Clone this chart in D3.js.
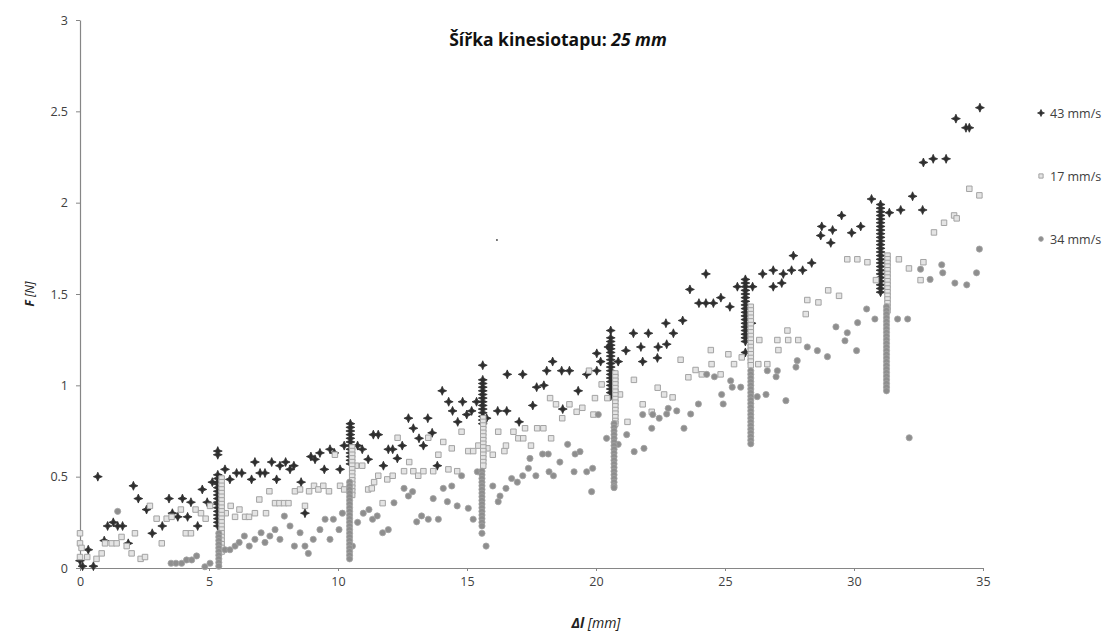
<!DOCTYPE html>
<html>
<head>
<meta charset="utf-8">
<script src="https://cdn.jsdelivr.net/npm/d3@7"></script>
<style>
  body { margin: 0; background: #fff; }
  text { font-family: "Open Sans", "Noto Sans", sans-serif; }
</style>
</head>
<body>
<div id="chart"></div>
<script>
// legend order
var seriesNames = ["43 mm/s", "17 mm/s", "34 mm/s"];
var xTicks = [0, 5, 10, 15, 20, 25, 30, 35];
var yTicks = [0, 0.5, 1, 1.5, 2, 2.5, 3];

// 43 mm/s - scattered points [Δl, F]
var pts43 = [
  [0,0.04],[0.1,0.01],[0.32,0.10],[0.52,0.01],[0.69,0.50],[0.94,0.15],[1.07,0.23],[1.29,0.25],
  [1.46,0.23],[1.65,0.23],[1.87,0.135],[2.07,0.45],[2.26,0.38],[2.58,0.32],[2.80,0.19],[3.19,0.23],
  [3.45,0.38],[3.58,0.30],[3.79,0.28],[3.97,0.38],[4.17,0.28],[4.30,0.36],[4.56,0.23],[4.74,0.43],
  [4.93,0.36],[5.13,0.47],[5.62,0.54],[5.81,0.485],[6.07,0.52],[6.27,0.52],[6.65,0.485],[6.78,0.58],
  [6.98,0.52],[7.17,0.52],[7.43,0.58],[7.62,0.485],[7.75,0.56],[7.97,0.58],[8.14,0.54],[8.29,0.56],
  [8.57,0.47],[8.72,0.30],[8.95,0.61],[9.11,0.595],[9.30,0.63],[9.47,0.54],[9.69,0.65],[9.86,0.63],
  [10.08,0.54],[10.24,0.67],[10.76,0.67],[10.94,0.65],[11.17,0.595],[11.37,0.73],[11.56,0.73],
  [11.76,0.56],[11.95,0.65],[12.12,0.65],[12.30,0.60],[12.49,0.67],[12.73,0.82],[12.92,0.765],
  [13.14,0.71],[13.31,0.67],[13.48,0.82],[13.65,0.74],[13.85,0.56],[14.04,0.97],[14.29,0.91],
  [14.44,0.86],[14.64,0.80],[14.83,0.91],[14.99,0.84],[15.18,0.86],[15.37,0.91],[15.76,0.82],
  [16.19,0.86],[16.54,0.86],[16.56,1.06],[17.02,0.80],[17.16,1.06],[17.55,0.89],
  [17.70,0.99],[17.98,1.00],[18.09,1.08],[18.32,1.13],[18.67,1.08],[18.71,0.87],[18.97,1.08],
  [19.31,0.97],[19.64,1.06],[20.03,1.175],[20.03,1.08],[20.18,1.13],[20.48,1.21],[20.86,1.13],
  [21.16,1.19],[21.45,1.285],[21.74,1.21],[21.81,1.13],[22.03,1.285],[22.38,1.15],[22.41,1.21],
  [22.71,1.34],[22.74,1.225],[23.0,1.285],[23.36,1.355],[23.64,1.525],[23.99,1.45],[24.26,1.61],
  [24.26,1.45],[24.55,1.45],[24.84,1.48],[25.19,1.43],[25.48,1.54],[26.07,1.54],[26.03,1.34],
  [26.46,1.61],[26.87,1.63],[26.87,1.54],[27.2,1.56],[27.26,1.61],[27.58,1.63],[27.65,1.71],
  [28.01,1.63],[28.36,1.67],[28.71,1.82],[28.75,1.87],[29.10,1.78],[29.17,1.85],[29.52,1.93],
  [29.91,1.835],[30.26,1.87],[30.68,2.02],[31.37,1.945],[31.81,1.96],[32.27,2.035],[32.66,1.96],
  [32.69,2.22],[33.07,2.24],[33.57,2.24],[33.95,2.46],[34.34,2.41],[34.47,2.41],[34.88,2.52]
];
// a lone tiny reading drawn as a dot
var dots43 = [[16.16,1.795]];
// 43 mm/s - stacked readings at the hold positions
var stacks43 = [
  { x: 5.34, ys: [0.64,0.62,0.51,0.49,0.47,0.46,0.44,0.42,0.40,0.38,0.36,0.35,0.33,0.31,0.29,0.27,0.25,0.23] },
  { x: 10.48, ys: [0.79,0.77,0.75,0.73,0.71,0.69,0.67,0.65,0.63,0.61,0.59,0.57] },
  { x: 15.61, ys: [1.11,1.03,1.01,0.99,0.97,0.95,0.93,0.91,0.89,0.87,0.85,0.83,0.81,0.79] },
  { x: 20.57, ys: [1.30,1.26,1.24,1.22,1.20,1.18,1.16,1.14,1.12,1.10,1.08,1.06,1.04,1.02,1.00,0.98,0.96,0.94] },
  { x: 25.79, ys: [1.58,1.56,1.54,1.52,1.50,1.48,1.46,1.44,1.42,1.40,1.38,1.36,1.34,1.32,1.30,1.28,1.26,1.24,1.18] },
  { x: 31.03, ys: [1.99,1.97,1.95,1.93,1.91,1.89,1.87,1.85,1.83,1.81,1.79,1.77,1.75,1.73,1.71,1.69,1.67,1.65,1.63,1.61,1.59,1.57,1.55,1.53,1.51] }
];

// 17 mm/s
var pts17 = [
  [0,0.19],[0,0.135],[0.06,0.11],[0,0.06],[0.28,0.06],[0.64,0.05],[0.84,0.08],[0.97,0.135],
  [1.23,0.135],[1.42,0.135],[1.61,0.17],[1.81,0.12],[2.0,0.08],[2.13,0.19],[2.35,0.05],[2.52,0.06],
  [2.71,0.34],[2.97,0.27],[3.17,0.135],[3.36,0.27],[3.55,0.28],[3.91,0.32],[4.10,0.19],[4.30,0.19],
  [4.48,0.32],[4.69,0.30],[4.87,0.27],[5.04,0.34],[5.65,0.30],[5.84,0.34],[6.01,0.28],[6.18,0.32],
  [6.40,0.28],[6.55,0.28],[6.78,0.30],[6.95,0.375],[7.21,0.30],[7.34,0.42],[7.56,0.355],[7.73,0.355],
  [7.91,0.355],[8.08,0.355],[8.33,0.42],[8.53,0.43],[8.72,0.34],[8.88,0.42],[9.07,0.45],[9.24,0.43],
  [9.43,0.45],[9.65,0.42],[9.88,0.62],[10.08,0.45],[10.24,0.43],[10.70,0.56],[10.94,0.56],[11.17,0.43],
  [11.31,0.436],[11.40,0.47],[11.56,0.505],[11.73,0.355],[11.91,0.485],[12.12,0.505],[12.31,0.713],
  [12.56,0.53],[12.76,0.58],[12.92,0.53],[13.11,0.505],[13.31,0.53],[13.50,0.713],[13.69,0.53],
  [13.89,0.62],[14.08,0.69],[14.28,0.54],[14.41,0.655],[14.62,0.53],[14.79,0.746],[15.05,0.64],
  [15.24,0.64],[15.44,0.67],[15.79,0.655],[16.0,0.62],[16.21,0.746],[16.45,0.64],[16.51,0.67],
  [16.80,0.746],[16.99,0.71],[17.18,0.71],[17.25,0.765],[17.48,0.67],[17.72,0.765],[17.96,0.765],
  [18.22,0.93],[18.26,0.71],[18.45,0.896],[18.69,0.82],[18.97,0.896],[19.25,0.855],[19.47,0.877],
  [19.73,1.08],[19.90,0.84],[19.96,0.93],[20.22,1.005],[20.44,0.93],[20.93,0.95],[21.22,0.80],
  [21.47,1.03],[21.81,0.896],[22.16,0.855],[22.39,0.987],[22.64,0.95],[22.97,0.934],[23.28,1.14],
  [23.58,1.044],[23.86,1.084],[24.10,1.06],[24.45,1.193],[24.48,1.116],[24.83,1.06],[25.13,1.17],
  [25.35,1.116],[25.65,1.153],[26.33,1.248],[26.29,1.116],[26.64,1.116],[27.03,1.248],[27.07,1.193],
  [27.42,1.30],[27.45,1.248],[27.84,1.248],[28.13,1.39],[28.19,1.467],[28.62,1.454],[29.0,1.52],
  [29.42,1.49],[29.74,1.69],[30.13,1.69],[30.52,1.674],[30.85,1.576],[31.74,1.69],[32.13,1.64],
  [32.58,1.576],[32.69,1.674],[33.10,1.837],[33.49,1.89],[33.88,1.93],[33.98,1.914],[34.47,2.076],
  [34.86,2.04]
];
var stacks17 = [
  { x: 5.49, ys: [0.49,0.47,0.45,0.43,0.41,0.39,0.37,0.35,0.33,0.31,0.29,0.27,0.25,0.23,0.21,0.19,0.17,0.15,0.13,0.11,0.09] },
  { x: 10.55, ys: [0.66,0.64,0.62,0.60,0.58,0.56,0.54,0.52,0.50,0.48,0.46,0.44,0.42,0.40] },
  { x: 15.63, ys: [0.82,0.80,0.78,0.76,0.74,0.72,0.70,0.68,0.66,0.64,0.62,0.60,0.58,0.56] },
  { x: 20.75, ys: [1.065,1.045,1.025,1.005,0.985,0.965,0.945,0.925,0.905,0.885,0.865,0.845,0.825,0.805,0.79] },
  { x: 26.0, ys: [1.43,1.41,1.39,1.37,1.35,1.33,1.31,1.29,1.27,1.25,1.23,1.21,1.19,1.17,1.15,1.13,1.11] },
  { x: 31.3, ys: [1.71,1.69,1.67,1.65,1.63,1.61,1.59,1.57,1.55,1.53,1.51,1.49,1.47,1.45,1.43,1.41] }
];

// 34 mm/s
var pts34 = [
  [1.46,0.31],[3.53,0.026],[3.72,0.026],[3.94,0.026],[4.13,0.044],[4.33,0.044],[4.52,0.066],[4.84,0.007],
  [5.04,0.026],[5.62,0.10],[5.81,0.10],[6.01,0.12],[6.17,0.14],[6.37,0.175],[6.56,0.12],[6.78,0.157],
  [7.02,0.193],[7.17,0.14],[7.36,0.175],[7.56,0.21],[7.75,0.157],[7.92,0.284],[8.14,0.23],[8.31,0.12],
  [8.53,0.193],[8.72,0.12],[8.85,0.08],[9.04,0.157],[9.30,0.21],[9.50,0.267],[9.69,0.157],[9.82,0.267],
  [10.04,0.21],[10.17,0.30],[10.56,0.12],[10.76,0.25],[10.98,0.30],[11.20,0.32],[11.34,0.267],
  [11.52,0.285],[11.73,0.193],[11.95,0.21],[12.17,0.357],[12.56,0.436],[12.73,0.394],[12.89,0.418],
  [13.05,0.253],[13.24,0.285],[13.50,0.267],[13.69,0.38],[13.89,0.267],[14.08,0.436],[14.24,0.363],
  [14.41,0.449],[14.62,0.34],[14.79,0.505],[15.05,0.327],[15.24,0.267],[15.40,0.527],[15.74,0.12],
  [16.0,0.449],[16.21,0.363],[16.28,0.394],[16.51,0.436],[16.73,0.49],[16.95,0.47],[17.16,0.505],
  [17.38,0.546],[17.44,0.60],[17.67,0.505],[17.93,0.624],[18.15,0.624],[18.18,0.527],[18.35,0.505],
  [18.60,0.58],[18.90,0.677],[19.15,0.527],[19.19,0.624],[19.38,0.637],[19.64,0.527],[19.83,0.418],
  [19.87,0.546],[20.09,0.84],[20.41,0.71],[20.86,0.677],[21.19,0.73],[21.48,0.637],[21.81,0.84],
  [21.86,0.655],[22.16,0.765],[22.20,0.84],[22.45,0.82],[22.74,0.843],[22.80,0.874],[23.13,0.86],
  [23.41,0.765],[23.67,0.843],[23.97,0.898],[24.29,1.06],[24.59,1.047],[24.87,0.95],[24.93,0.898],
  [25.22,1.025],[25.28,0.99],[25.61,0.99],[26.25,0.938],[26.59,0.95],[26.64,1.08],[26.98,1.047],
  [27.03,1.08],[27.36,0.916],[27.75,1.10],[27.80,1.135],[28.19,1.21],[28.58,1.19],[28.97,1.157],
  [29.30,1.32],[29.65,1.244],[29.74,1.288],[30.10,1.19],[30.14,1.343],[30.49,1.418],[30.81,1.363],
  [31.69,1.363],[32.08,1.363],[32.14,0.713],[32.58,1.636],[32.95,1.58],[33.40,1.66],[33.44,1.616],
  [33.91,1.56],[34.37,1.55],[34.75,1.616],[34.86,1.746]
];
var stacks34 = [
  { x: 5.38, ys: [0.19,0.17,0.15,0.13,0.11,0.09,0.07,0.05,0.03,0.01] },
  { x: 10.45, ys: [0.47,0.45,0.43,0.41,0.39,0.37,0.35,0.33,0.31,0.29,0.27,0.25,0.23,0.21,0.19,0.17,0.15,0.13,0.11,0.09,0.07,0.05] },
  { x: 15.58, ys: [0.53,0.51,0.49,0.47,0.45,0.43,0.41,0.39,0.37,0.35,0.33,0.31,0.29,0.27,0.25,0.23,0.19] },
  { x: 20.70, ys: [0.79,0.77,0.75,0.73,0.71,0.69,0.67,0.65,0.63,0.61,0.59,0.57,0.55,0.53,0.51,0.49,0.47,0.45,0.44] },
  { x: 26.0, ys: [1.08,1.06,1.04,1.02,1.00,0.98,0.96,0.94,0.92,0.90,0.88,0.86,0.84,0.82,0.80,0.78,0.76,0.74,0.72,0.70,0.68] },
  { x: 31.26, ys: [1.43,1.41,1.39,1.37,1.35,1.33,1.31,1.29,1.27,1.25,1.23,1.21,1.19,1.17,1.15,1.13,1.11,1.09,1.07,1.05,1.03,1.01,0.99,0.97] }
];

var W = 1113, H = 632;
var margin = { left: 80, right: 130, top: 20, bottom: 64 };

var svg = d3.select("#chart").append("svg")
  .attr("width", W)
  .attr("height", H);

var x = d3.scaleLinear().domain([0, 35]).range([margin.left, W - margin.right]);
var y = d3.scaleLinear().domain([0, 3]).range([H - margin.bottom, margin.top]);

var flatten = function(pts, stacks) {
  var out = pts.map(function(p) { return { x: p[0], y: p[1] }; });
  stacks.forEach(function(s) {
    s.ys.forEach(function(v) { out.push({ x: s.x, y: v }); });
  });
  return out;
};

// four pointed star marker
var star4 = {
  draw: function(ctx, size) {
    var r = Math.sqrt(size) * 0.62, w = r * 0.3;
    ctx.moveTo(0, -r);
    ctx.lineTo(w, -w);
    ctx.lineTo(r, 0);
    ctx.lineTo(w, w);
    ctx.lineTo(0, r);
    ctx.lineTo(-w, w);
    ctx.lineTo(-r, 0);
    ctx.lineTo(-w, -w);
    ctx.closePath();
  }
};

var styles = [
  { type: star4, size: 52, fill: "#2e2e2e", stroke: "#2e2e2e", sw: 0.8 },
  { type: d3.symbolSquare, size: 30, fill: "#e4e4e4", stroke: "#a3a3a3", sw: 1 },
  { type: d3.symbolCircle, size: 30, fill: "#8e8e8e", stroke: "#a5a5a5", sw: 0.8 }
];

// axes
var yAxis = svg.append("g")
  .attr("transform", "translate(" + margin.left + ",0)")
  .call(d3.axisLeft(y).tickValues(yTicks).tickSize(4).tickSizeOuter(0).tickPadding(8)
    .tickFormat(function(d) { return d; }));
var xAxis = svg.append("g")
  .attr("transform", "translate(0," + (H - margin.bottom) + ")")
  .call(d3.axisBottom(x).tickValues(xTicks).tickSize(3).tickSizeOuter(0).tickPadding(6));

[yAxis, xAxis].forEach(function(a) {
  a.select(".domain").attr("stroke", "#868686").attr("stroke-width", 1.2);
  a.selectAll(".tick line").attr("stroke", "#868686");
  a.selectAll(".tick text").attr("fill", "#404040")
    .style("font-size", "12.5px")
    .style("font-family", "'Open Sans', sans-serif");
});

var drawOrder = [
  { data: flatten(pts43, stacks43), st: styles[0] },
  { data: flatten(pts17, stacks17), st: styles[1] },
  { data: flatten(pts34, stacks34), st: styles[2] }
];

drawOrder.forEach(function(s, i) {
  svg.append("g").attr("class", "series s" + i)
    .selectAll("path")
    .data(s.data)
    .enter().append("path")
    .attr("transform", function(d) { return "translate(" + x(d.x) + "," + y(d.y) + ")"; })
    .attr("d", d3.symbol().type(s.st.type).size(s.st.size))
    .attr("fill", s.st.fill)
    .attr("stroke", s.st.stroke)
    .attr("stroke-width", s.st.sw);
});

svg.append("g").selectAll("circle")
  .data(dots43)
  .enter().append("circle")
  .attr("cx", function(d) { return x(d[0]); })
  .attr("cy", function(d) { return y(d[1]); })
  .attr("r", 1)
  .attr("fill", "#555");

// title
var title = svg.append("text")
  .attr("x", 558)
  .attr("y", 46)
  .attr("text-anchor", "middle")
  .style("font-size", "17.5px")
  .style("font-weight", "bold")
  .attr("fill", "#111");
title.append("tspan").text("Šířka kinesiotapu: ");
title.append("tspan").style("font-style", "italic").text("25 mm");

// axis titles
var xt = svg.append("text")
  .attr("x", 596)
  .attr("y", 628)
  .attr("text-anchor", "middle")
  .style("font-size", "14px")
  .attr("fill", "#222");
xt.append("tspan").style("font-weight", "bold").style("font-style", "italic").text("Δl");
xt.append("tspan").style("font-style", "italic").text(" [mm]");

var yt = svg.append("text")
  .attr("transform", "translate(34,294) rotate(-90)")
  .attr("text-anchor", "middle")
  .style("font-size", "12px")
  .attr("fill", "#222");
yt.append("tspan").style("font-weight", "bold").style("font-style", "italic").text("F");
yt.append("tspan").style("font-style", "italic").text(" [N]");

// legend
var legend = svg.append("g").attr("class", "legend");
seriesNames.forEach(function(name, i) {
  var ly = 113 + i * 63;
  var st = styles[i];
  legend.append("path")
    .attr("transform", "translate(1041," + ly + ")")
    .attr("d", d3.symbol().type(st.type).size(st.size * 0.6))
    .attr("fill", st.fill)
    .attr("stroke", st.stroke)
    .attr("stroke-width", st.sw);
  legend.append("text")
    .attr("x", 1050)
    .attr("y", ly + 4.5)
    .style("font-size", "12.5px")
    .attr("fill", "#404040")
    .text(name);
});
</script>
</body>
</html>
